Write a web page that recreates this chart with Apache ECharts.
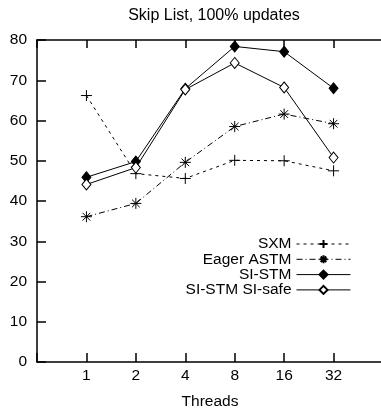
<!DOCTYPE html>
<html><head><meta charset="utf-8">
<script src="https://cdn.jsdelivr.net/npm/echarts@6/dist/echarts.min.js"></script>
<style>html,body{margin:0;padding:0;background:#fff}#c{width:381px;height:408px}</style>
</head><body><div id="c"></div>
<script>
const categories = ['1', '2', '4', '8', '16', '32'];
const sxm = [66.2, 46.8, 45.6, 50.1, 50.0, 47.5];
const eagerAstm = [36.1, 39.4, 49.6, 58.5, 61.6, 59.2];
const siStm = [45.9, 49.8, 67.9, 78.4, 77.1, 68.0];
const siSafe = [44.1, 48.3, 67.7, 74.3, 68.2, 50.8];
const yTicks = [0, 10, 20, 30, 40, 50, 60, 70, 80];

const FONT = 'Liberation Sans, Arial, sans-serif';
const FS = 15.5;
const toPts = arr => arr.map((v, i) => [i + 1, v]);
const plusPath = 'path://M5,0L5,10M0,5L10,5';
const starPath = 'path://M5,0L5,10M0,5L10,5M1.5,1.5L8.5,8.5M8.5,1.5L1.5,8.5';

function mk(name, data, symbol, size, lineType, fill) {
  return {
    name, type: 'line', data: toPts(data), symbol, symbolSize: size,
    lineStyle: { color: '#000', width: 1, type: lineType },
    itemStyle: { color: fill, borderColor: '#000', borderWidth: 1 },
    emphasis: { disabled: true }, animation: false, z: 3
  };
}

const chart = echarts.init(document.getElementById('c'));
chart.setOption({
  animation: false,
  backgroundColor: '#fff',
  title: { text: 'Skip List, 100% updates', left: 209, top: 3, textAlign: 'center',
    textStyle: { fontFamily: FONT, fontSize: 16, fontWeight: 'normal', color: '#000' } },
  grid: { left: 37, right: -2, top: 40, bottom: 46, containLabel: false, outerBoundsMode: 'none' },
  legend: {
    orient: 'vertical', right: 25, top: 231, align: 'right',
    itemWidth: 54, itemHeight: 10, itemGap: -0.7,
    lineStyle: { width: 1 },
    textStyle: { fontFamily: FONT, fontSize: FS, lineHeight: 15.5, color: '#000' },
    data: ['SXM', 'Eager ASTM', 'SI-STM', 'SI-STM SI-safe']
  },
  xAxis: [{
    type: 'value', min: 0, max: 7, interval: 1, position: 'bottom',
    axisLine: { lineStyle: { color: '#000', width: 1.5 } },
    axisTick: { inside: true, length: 9, lineStyle: { color: '#000', width: 1.5 } },
    splitLine: { show: false },
    axisLabel: { margin: 6, color: '#000', fontFamily: FONT, fontSize: FS,
      formatter: v => (v >= 1 && v <= categories.length) ? categories[v - 1] : '' },
    name: 'Threads', nameLocation: 'middle', nameGap: 32,
    nameTextStyle: { fontFamily: FONT, fontSize: FS, color: '#000' }
  }, {
    type: 'value', min: 0, max: 7, interval: 1, position: 'top',
    axisLine: { lineStyle: { color: '#000', width: 1.5 } },
    axisTick: { inside: true, length: 8, lineStyle: { color: '#000', width: 1.5 } },
    splitLine: { show: false }, axisLabel: { show: false }
  }],
  yAxis: {
    type: 'value', min: 0, max: 80, interval: 10,
    axisLine: { show: true, lineStyle: { color: '#000', width: 1.5 } },
    axisTick: { show: true, inside: true, length: 9, lineStyle: { color: '#000', width: 1.5 } },
    splitLine: { show: false },
    axisLabel: { margin: 10, color: '#000', fontFamily: FONT, fontSize: FS,
      formatter: v => yTicks.includes(v) ? String(v) : '' }
  },
  series: [
    mk('SXM', sxm, plusPath, 11, [3, 4], '#000'),
    mk('Eager ASTM', eagerAstm, starPath, 11, [6, 3, 1, 3], '#000'),
    mk('SI-STM', siStm, 'diamond', [9, 11], 'solid', '#000'),
    mk('SI-STM SI-safe', siSafe, 'diamond', [9, 11], 'solid', '#fff')
  ]
});
</script></body></html>
